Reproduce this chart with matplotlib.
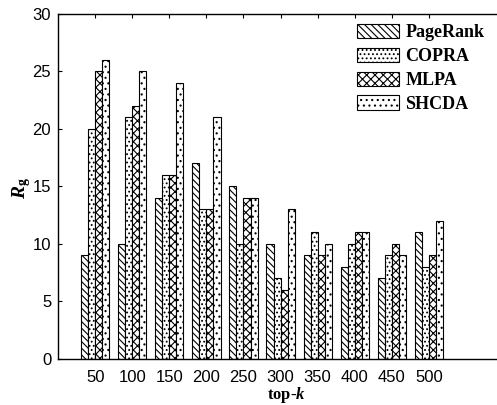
import numpy as np
import matplotlib
matplotlib.use("Agg")
import matplotlib.pyplot as plt

categories = ["50", "100", "150", "200", "250", "300", "350", "400", "450", "500"]
pagerank = [9, 10, 14, 17, 15, 10, 9, 8, 7, 11]
copra = [20, 21, 16, 13, 10, 7, 11, 10, 9, 8]
mlpa = [25, 22, 16, 13, 14, 6, 9, 11, 10, 9]
shcda = [26, 25, 24, 21, 14, 13, 10, 11, 9, 12]
series = [("PageRank", pagerank, "\\\\\\\\\\"),
          ("COPRA", copra, "...."),
          ("MLPA", mlpa, "xxxx"),
          ("SHCDA", shcda, "...")]

plt.rcParams['hatch.linewidth'] = 0.8
plt.rcParams['mathtext.fontset'] = 'custom'
plt.rcParams['mathtext.it'] = 'Liberation Serif:italic:bold'
plt.rcParams['mathtext.rm'] = 'Liberation Serif:bold'

fig = plt.figure(figsize=(4.97, 4.05), dpi=100)
ax = fig.add_axes([0.117, 0.1136, 0.895, 0.852])

x = np.arange(1, len(categories) + 1)
w = 0.19
for i, (name, vals, h) in enumerate(series):
    ax.bar(x + (i - 1.5) * w, vals, width=w, facecolor="white",
           edgecolor="black", hatch=h, linewidth=0.8, label=name)

ax.set_xlim(0, 12)
ax.set_ylim(0, 30)
ax.set_xticks(x)
ax.set_xticklabels(categories, family="Liberation Sans", fontsize=12)
ax.set_yticks(range(0, 31, 5))
ax.set_yticklabels([str(v) for v in range(0, 31, 5)], family="Liberation Sans", fontsize=12)
ax.tick_params(direction="in", length=3, top=True, right=True, width=0.8)
ax.tick_params(axis="x", pad=8)
ax.tick_params(axis="y", pad=5)
for s in ax.spines.values():
    s.set_linewidth(1.0)

fig.text(286 / 497, 1 - 395 / 405, "top-$k$", family="Liberation Serif",
         fontweight="bold", fontsize=12, ha="center", va="center")
fig.text(22 / 497, 1 - 188 / 405, "$R_{\\mathrm{g}}$", fontsize=14,
         rotation=90, ha="center", va="center")

leg = fig.legend(loc="upper left", bbox_to_anchor=(357 / 497, 1 - 24 / 405),
                 frameon=False, borderpad=0, borderaxespad=0,
                 prop={"family": "Liberation Serif", "size": 13, "weight": "bold"},
                 handlelength=2.33, handleheight=0.85, handletextpad=0.35,
                 labelspacing=0.35)

fig.savefig("out.png", dpi=100)
